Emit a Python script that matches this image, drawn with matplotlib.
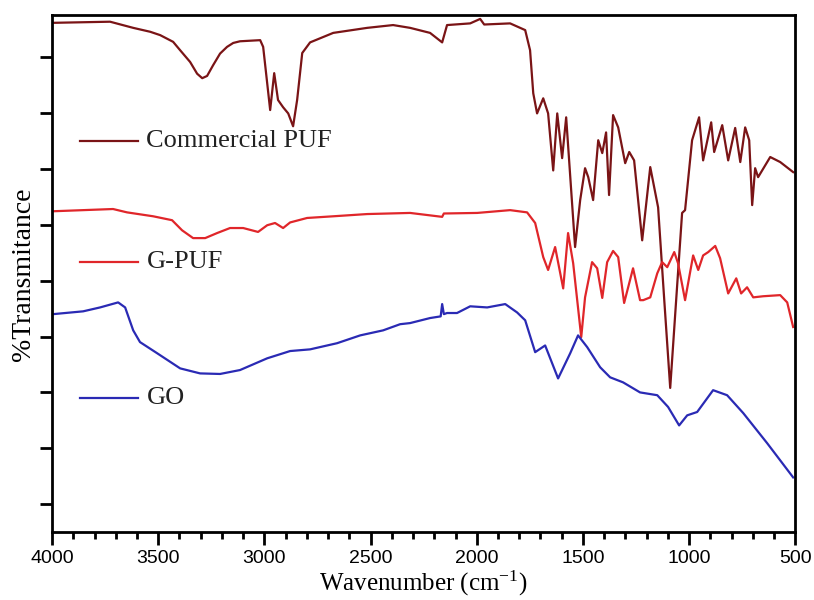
import matplotlib
matplotlib.use("Agg")
import matplotlib.pyplot as plt
from matplotlib.lines import Line2D
from matplotlib.ticker import MultipleLocator, NullFormatter

plt.rcParams['mathtext.fontset'] = 'custom'
plt.rcParams['mathtext.rm'] = 'Liberation Serif'
plt.rcParams['mathtext.it'] = 'Liberation Serif:italic'

# FTIR spectra (wavenumber in cm-1, %T in arbitrary offset units)
puf_wn = [3995, 3727, 3618, 3538, 3491, 3430, 3397, 3350, 3317, 3293, 3270, 3242, 3209, 3176,
          3147, 3115, 3020, 3006, 2987, 2973, 2954, 2936, 2912, 2888, 2865, 2846, 2822, 2785,
          2676, 2516, 2394, 2314, 2220, 2163, 2140, 2031, 1984, 1965, 1843, 1772, 1749, 1734,
          1716, 1687, 1664, 1640, 1621, 1598, 1579, 1537, 1513, 1490, 1475, 1452, 1428, 1409,
          1391, 1377, 1358, 1334, 1301, 1282, 1259, 1221, 1183, 1146, 1117, 1089, 1061, 1033,
          1019, 986, 953, 934, 896, 882, 844, 816, 783, 759, 736, 717, 703, 689, 675, 618, 571, 510]
puf_t = [9.61, 9.63, 9.52, 9.45, 9.39, 9.27, 9.12, 8.91, 8.70, 8.62, 8.66, 8.85, 9.06, 9.18,
         9.25, 9.28, 9.30, 9.18, 8.53, 8.05, 8.71, 8.23, 8.10, 7.99, 7.76, 8.23, 9.07, 9.26,
         9.43, 9.52, 9.57, 9.52, 9.43, 9.26, 9.57, 9.60, 9.68, 9.58, 9.60, 9.48, 9.12, 8.35,
         7.99, 8.26, 7.99, 6.97, 7.99, 7.19, 7.92, 5.60, 6.44, 7.01, 6.85, 6.44, 7.51, 7.28,
         7.65, 6.53, 7.96, 7.74, 7.10, 7.30, 7.15, 5.72, 7.03, 6.31, 4.65, 3.08, 4.65, 6.21,
         6.26, 7.51, 7.92, 7.15, 7.83, 7.30, 7.78, 7.15, 7.73, 7.12, 7.74, 7.51, 6.35, 7.01,
         6.85, 7.21, 7.12, 6.94]

gpuf_wn = [3995, 3713, 3647, 3524, 3435, 3388, 3336, 3279, 3223, 3162, 3100, 3030, 2987, 2950,
           2912, 2879, 2799, 2676, 2516, 2314, 2163, 2155, 1998, 1843, 1763, 1725, 1687, 1664,
           1631, 1593, 1570, 1546, 1527, 1508, 1490, 1457, 1433, 1409, 1386, 1358, 1334, 1306,
           1264, 1231, 1216, 1183, 1150, 1127, 1103, 1070, 1052, 1019, 981, 957, 934, 910, 877,
           854, 816, 778, 755, 727, 698, 651, 571, 538, 510]
gpuf_t = [6.24, 6.28, 6.22, 6.15, 6.08, 5.90, 5.76, 5.76, 5.85, 5.94, 5.94, 5.87, 5.99, 6.03,
          5.94, 6.04, 6.12, 6.15, 6.19, 6.21, 6.14, 6.20, 6.21, 6.26, 6.22, 6.03, 5.42, 5.19,
          5.60, 4.86, 5.85, 5.31, 4.65, 3.99, 4.70, 5.33, 5.22, 4.69, 5.33, 5.53, 5.42, 4.60,
          5.22, 4.65, 4.65, 4.70, 5.13, 5.33, 5.24, 5.51, 5.31, 4.65, 5.45, 5.19, 5.45, 5.51,
          5.62, 5.40, 4.77, 5.04, 4.77, 4.88, 4.70, 4.72, 4.74, 4.61, 4.17]

go_wn = [3995, 3854, 3774, 3689, 3656, 3618, 3586, 3505, 3397, 3303, 3209, 3115, 2987, 2879,
         2785, 2658, 2549, 2441, 2361, 2314, 2220, 2170, 2163, 2155, 2140, 2093, 2031, 1951,
         1866, 1810, 1772, 1725, 1678, 1617, 1560, 1523, 1480, 1419, 1372, 1311, 1231, 1150,
         1099, 1047, 1009, 962, 887, 821, 745, 632, 510]
go_t = [4.40, 4.45, 4.52, 4.61, 4.52, 4.11, 3.90, 3.70, 3.43, 3.34, 3.33, 3.40, 3.61, 3.74,
        3.77, 3.88, 4.02, 4.11, 4.22, 4.24, 4.33, 4.36, 4.58, 4.40, 4.42, 4.42, 4.54, 4.52,
        4.58, 4.43, 4.29, 3.72, 3.84, 3.25, 3.70, 4.02, 3.81, 3.45, 3.27, 3.18, 3.00, 2.95,
        2.74, 2.41, 2.59, 2.65, 3.04, 2.95, 2.63, 2.09, 1.48]

labels = ['Commercial PUF', 'G-PUF', 'GO']
colors = ['#7a1416', '#e0262a', '#2a2ab4']

fig = plt.figure(figsize=(8.14, 6), dpi=100)
ax = fig.add_axes([0.064, 0.113, 0.913, 0.862])

ax.plot(puf_wn, puf_t, color=colors[0], lw=1.6)
ax.plot(gpuf_wn, gpuf_t, color=colors[1], lw=1.6)
ax.plot(go_wn, go_t, color=colors[2], lw=1.6)

ax.set_xlim(4000, 500)
ax.set_ylim(0.5, 9.75)
ax.xaxis.set_major_locator(MultipleLocator(500))
ax.xaxis.set_minor_locator(MultipleLocator(100))
ax.yaxis.set_major_locator(MultipleLocator(1))
ax.yaxis.set_major_formatter(NullFormatter())
ax.tick_params(axis='both', which='major', direction='out', length=9, width=2)
ax.tick_params(axis='x', which='minor', direction='out', length=5, width=2)
for lab in ax.get_xticklabels():
    lab.set_fontfamily('Liberation Sans')
    lab.set_fontsize(14)
for sp in ax.spines.values():
    sp.set_linewidth(2)

ax.set_xlabel(r'Wavenumber (cm$^{-1}$)', family='Liberation Serif', fontsize=18, labelpad=2)
fig.text(24 / 814, 0.543, '%Transmitance', rotation=90, ha='center', va='center',
         family='Liberation Serif', fontsize=20)

# labels drawn beside short line segments, like the original figure
label_y = [0.756, 0.522, 0.259]
for lab, c, yy in zip(labels, colors, label_y):
    ax.add_line(Line2D([0.038, 0.116], [yy, yy], transform=ax.transAxes, color=c, lw=1.6))
    ax.text(0.127, yy, lab, transform=ax.transAxes, va='center', ha='left',
            family='Liberation Serif', fontsize=19, color='#222222')

fig.savefig('out.png', dpi=100)
